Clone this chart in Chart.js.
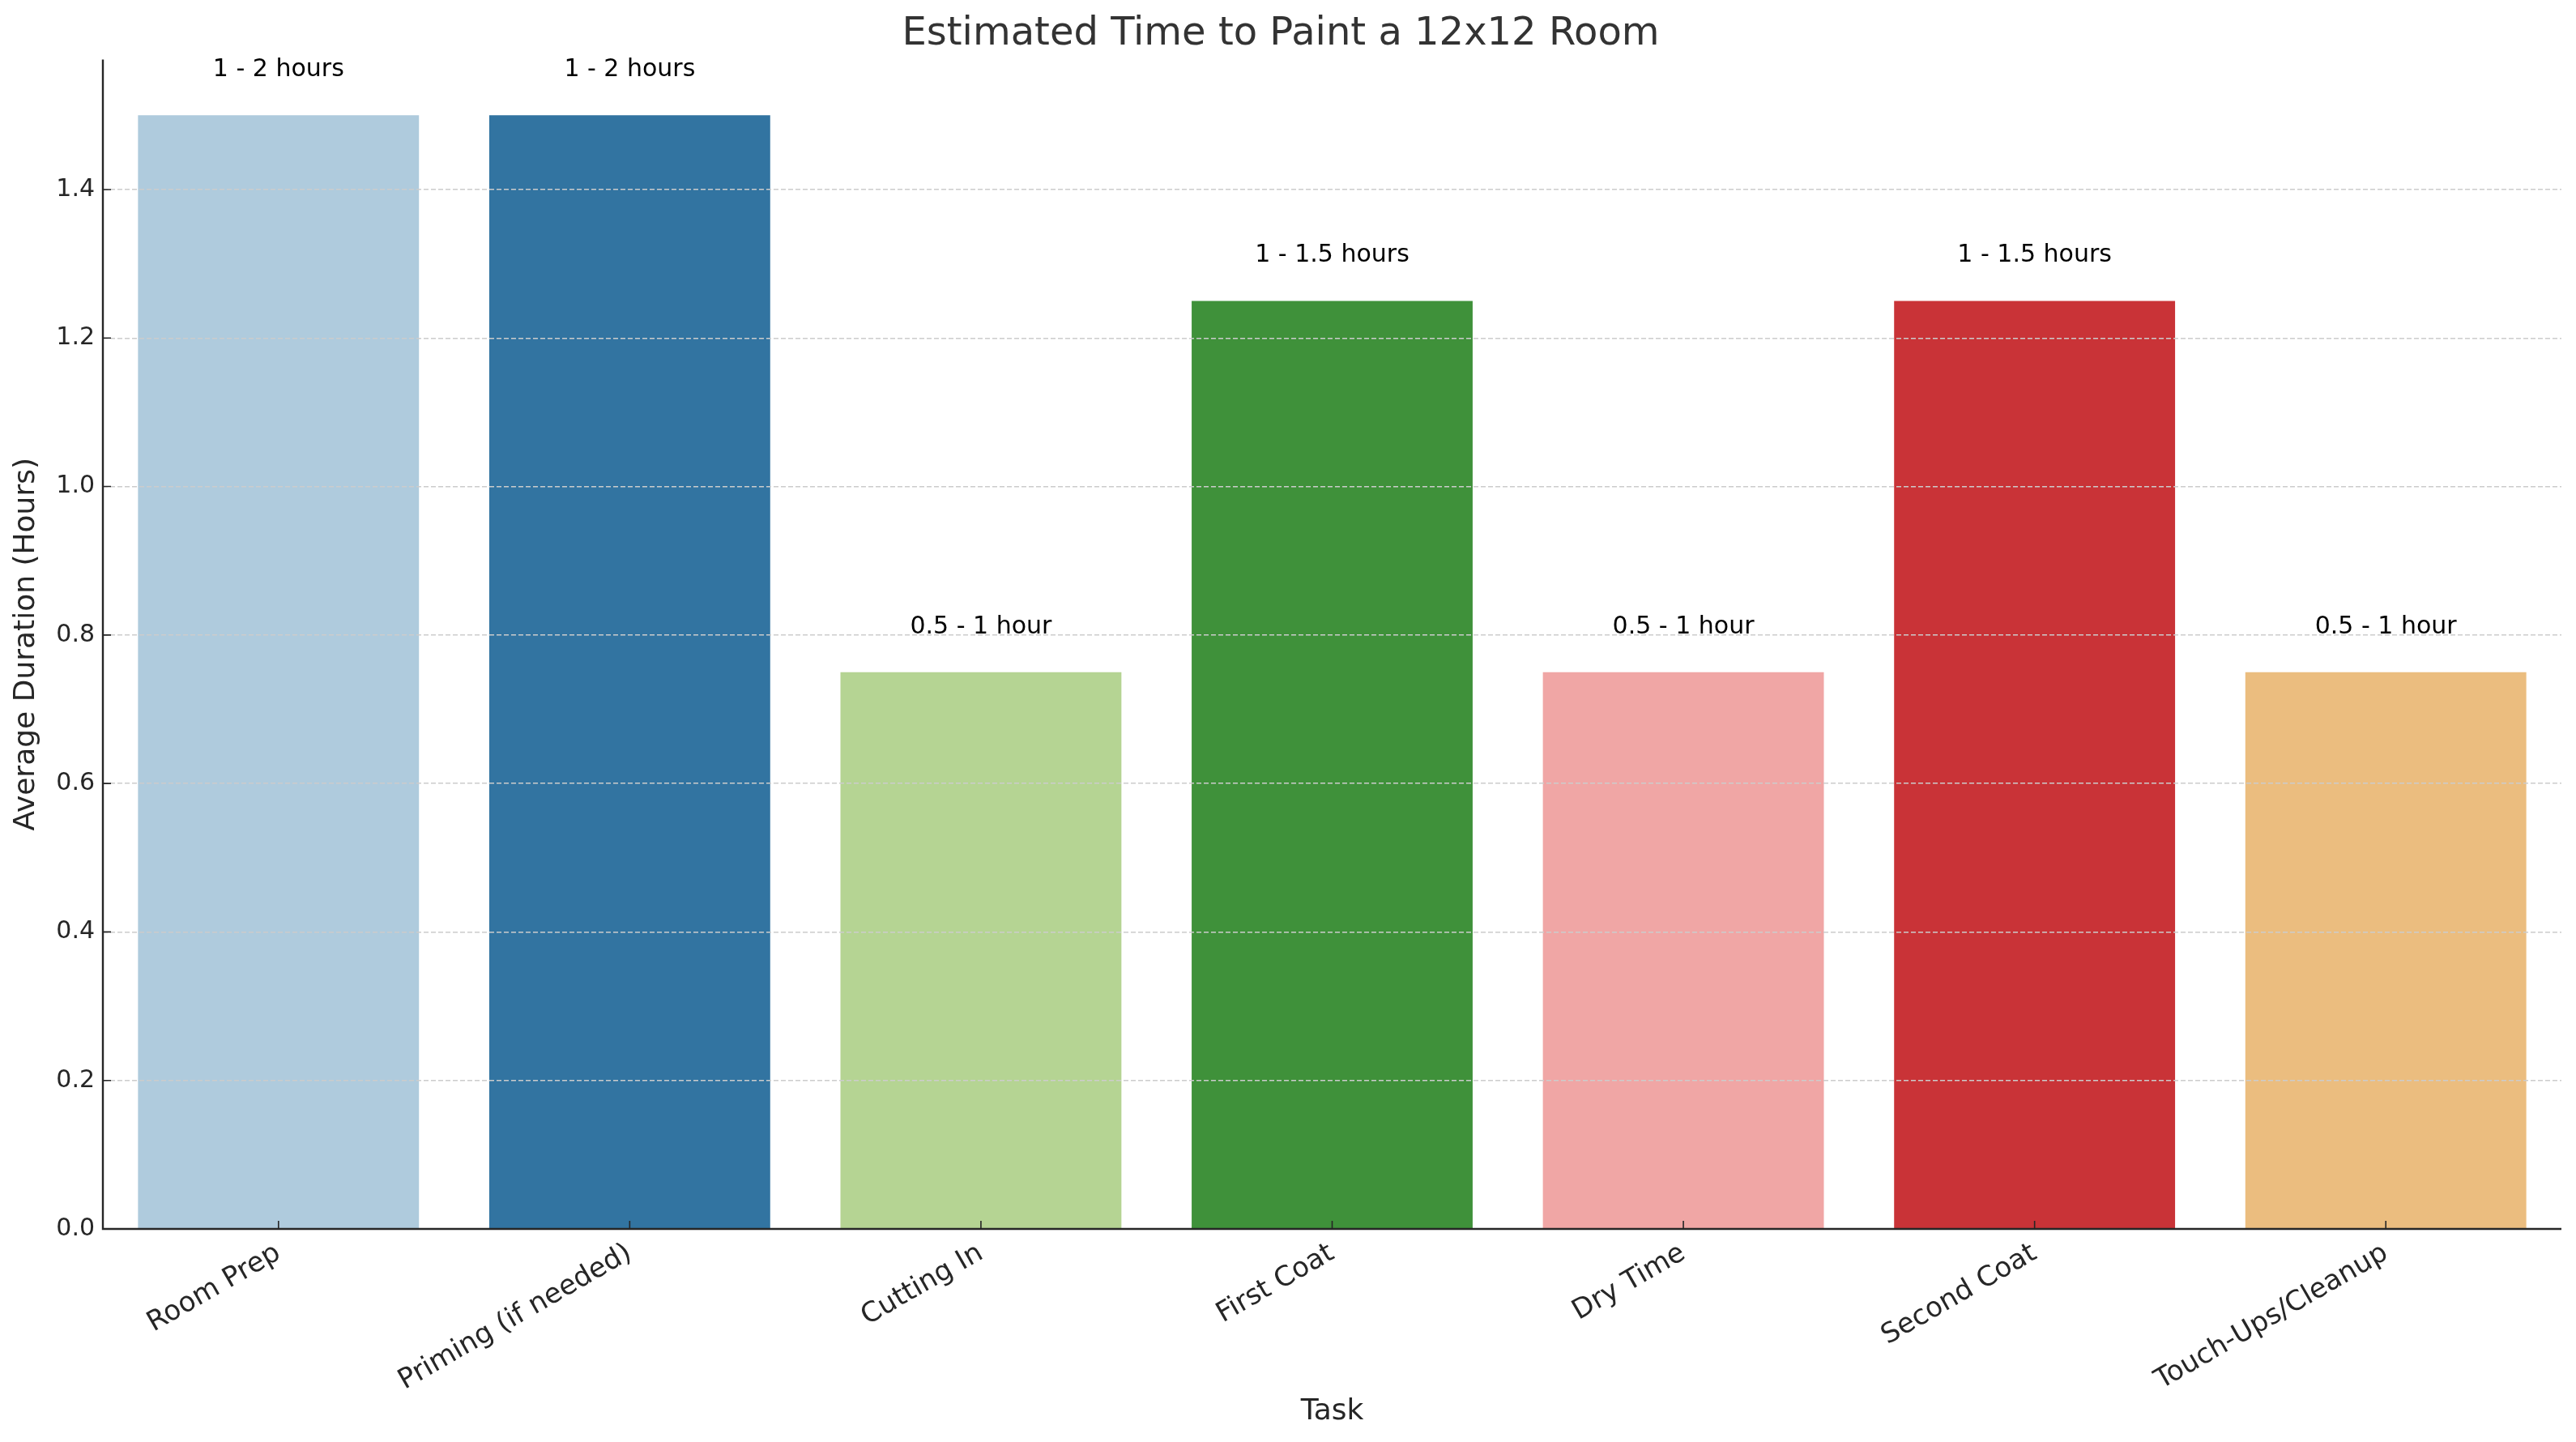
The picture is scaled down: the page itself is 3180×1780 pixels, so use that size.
<!DOCTYPE html>
<html>
<head>
<meta charset="utf-8">
<title>Estimated Time to Paint a 12x12 Room</title>
<script src="https://cdn.jsdelivr.net/npm/chart.js@4.4.1/dist/chart.umd.min.js"></script>
<style>
  html, body { margin: 0; padding: 0; background: #ffffff; }
  #wrap { width: 3180px; height: 1780px; }
</style>
</head>
<body>
<div id="wrap"><canvas id="paintChart" width="3180" height="1780"></canvas></div>
<script>
// chart data
const tasks = ['Room Prep', 'Priming (if needed)', 'Cutting In', 'First Coat', 'Dry Time', 'Second Coat', 'Touch-Ups/Cleanup'];
const avgHours = [1.5, 1.5, 0.75, 1.25, 0.75, 1.25, 0.75];
const timeRanges = ['1 - 2 hours', '1 - 2 hours', '0.5 - 1 hour', '1 - 1.5 hours', '0.5 - 1 hour', '1 - 1.5 hours', '0.5 - 1 hour'];
const yTickValues = [0.0, 0.2, 0.4, 0.6, 0.8, 1.0, 1.2, 1.4];
const yMax = 1.575;

const barColors = ['#afcbdd', '#3274a1', '#b5d493', '#3f913a', '#f0a6a5', '#c93337', '#ebbd7f'];

const FONT = "'DejaVu Sans', sans-serif";
const INK = '#262626';

// spines, inward ticks and the range text over each bar
const decorPlugin = {
    id: 'decor',
    afterDatasetsDraw(chart) {
        const ctx = chart.ctx;
        const meta = chart.getDatasetMeta(0);
        const yScale = chart.scales.y;
        ctx.save();
        ctx.fillStyle = '#000000';
        ctx.font = '30px ' + FONT;
        ctx.textAlign = 'center';
        ctx.textBaseline = 'middle';
        meta.data.forEach((bar, i) => {
            const y = yScale.getPixelForValue(avgHours[i] + 0.061);
            ctx.fillText(timeRanges[i], bar.x, y);
        });
        ctx.restore();
    },
    afterDraw(chart) {
        const ctx = chart.ctx;
        const area = chart.chartArea;
        const xScale = chart.scales.x;
        const yScale = chart.scales.y;
        ctx.save();
        ctx.strokeStyle = INK;
        // inward ticks
        ctx.lineWidth = 1.6;
        ctx.beginPath();
        yScale.ticks.forEach(t => {
            const y = yScale.getPixelForValue(t.value);
            ctx.moveTo(area.left, y);
            ctx.lineTo(area.left + 10, y);
        });
        tasks.forEach((_, i) => {
            const x = xScale.getPixelForTick(i);
            ctx.moveTo(x, area.bottom);
            ctx.lineTo(x, area.bottom - 10);
        });
        ctx.stroke();
        // left and bottom spines
        ctx.lineWidth = 2.4;
        ctx.beginPath();
        ctx.moveTo(area.left, area.top);
        ctx.lineTo(area.left, area.bottom);
        ctx.lineTo(area.right, area.bottom);
        ctx.stroke();
        ctx.restore();
    }
};

const ctx = document.getElementById('paintChart').getContext('2d');
new Chart(ctx, {
    type: 'bar',
    data: {
        labels: tasks,
        datasets: [{
            label: 'Average Duration (Hours)',
            data: avgHours,
            backgroundColor: barColors,
            borderWidth: 0,
            barPercentage: 0.8,
            categoryPercentage: 1.0
        }]
    },
    options: {
        responsive: false,
        animation: false,
        devicePixelRatio: 1,
        layout: {
            padding: { left: 0, right: 18, top: 0, bottom: 0 }
        },
        plugins: {
            legend: { display: false },
            tooltip: { enabled: false },
            title: {
                display: true,
                text: 'Estimated Time to Paint a 12x12 Room',
                color: '#333333',
                font: { family: FONT, size: 48, weight: 'normal' },
                padding: { top: 14, bottom: 2 }
            }
        },
        scales: {
            x: {
                offset: true,
                grid: { display: false, drawTicks: false },
                border: { display: false },
                ticks: {
                    autoSkip: false,
                    minRotation: 30,
                    maxRotation: 30,
                    padding: 10,
                    color: INK,
                    font: { family: FONT, size: 34 }
                },
                title: {
                    display: true,
                    text: 'Task',
                    color: INK,
                    font: { family: FONT, size: 36 },
                    padding: { top: 0, bottom: 16 }
                },
                afterFit(scale) { scale.height = 263; }
            },
            y: {
                min: 0,
                max: yMax,
                afterBuildTicks(scale) {
                    scale.ticks = yTickValues.map(v => ({ value: v }));
                },
                grid: {
                    z: 1,
                    drawTicks: false,
                    color: '#cccccc',
                    lineWidth: 1.5
                },
                border: { display: false, dash: [6, 3] },
                ticks: {
                    padding: 10,
                    color: INK,
                    font: { family: FONT, size: 30 },
                    callback: v => Number(v).toFixed(1)
                },
                title: {
                    display: true,
                    text: 'Average Duration (Hours)',
                    color: INK,
                    font: { family: FONT, size: 36 },
                    padding: { top: 11, bottom: 0 }
                },
                afterFit(scale) { scale.width = 127; }
            }
        }
    },
    plugins: [decorPlugin]
});
</script>
</body>
</html>
